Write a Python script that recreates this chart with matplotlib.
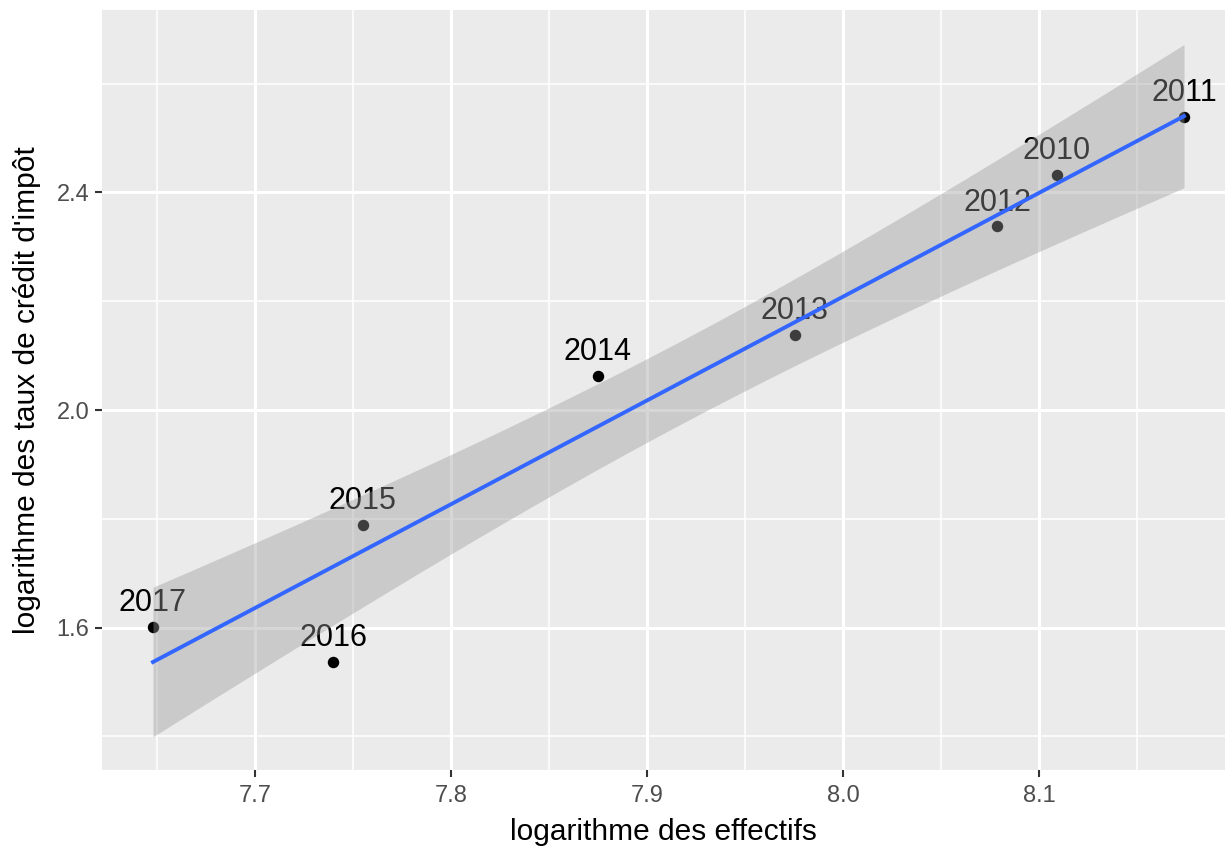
import numpy as np
import matplotlib
matplotlib.use("Agg")
import matplotlib.pyplot as plt
from matplotlib.ticker import MultipleLocator

years = ["2017", "2016", "2015", "2014", "2013", "2012", "2010", "2011"]
log_effectifs = [7.648, 7.740, 7.755, 7.875, 7.9755, 8.0786, 8.109, 8.174]
log_taux = [1.601, 1.537, 1.7885, 2.0625, 2.138, 2.338, 2.432, 2.539]
x_ticks = [7.7, 7.8, 7.9, 8.0, 8.1]
y_ticks = [1.6, 2.0, 2.4]

plt.rcParams['font.family'] = ['Liberation Sans', 'DejaVu Sans']

fig = plt.figure(figsize=(12.25, 8.47), dpi=100)
ax = fig.add_axes([102/1225, 1-770/847, (1225-102)/1225, (770-10)/847])
ax.set_facecolor('#EBEBEB')
for s in ax.spines.values():
    s.set_visible(False)

ax.set_xlim(7.622, 8.1949)
ax.set_ylim(1.338, 2.7356)
ax.set_xticks(x_ticks)
ax.set_yticks(y_ticks)
ax.xaxis.set_minor_locator(MultipleLocator(0.05))
ax.yaxis.set_minor_locator(MultipleLocator(0.2))
ax.set_xticklabels([f"{v:.1f}" for v in x_ticks])
ax.set_yticklabels([f"{v:.1f}" for v in y_ticks])
ax.grid(which='major', color='white', linewidth=2.2)
ax.grid(which='minor', color='white', linewidth=1.1)
ax.set_axisbelow(True)
ax.tick_params(which='major', length=5, width=1.5, color='#333333',
               labelcolor='#4D4D4D', labelsize=17, pad=4)
ax.tick_params(axis='x', which='major', pad=6)
ax.tick_params(which='minor', length=0)

x = np.array(log_effectifs)
y = np.array(log_taux)

ax.scatter(x, y, s=68, color='black', zorder=3, linewidths=0)
for xi, yi, lab in zip(x, y, years):
    ax.annotate(lab, (xi, yi), xytext=(0, 17), textcoords='offset points',
                ha='center', va='center', fontsize=22, color='black', zorder=4)

# linear fit with 95% confidence band (like geom_smooth(method='lm'))
n = len(x)
b, a = np.polyfit(x, y, 1)
xs = np.linspace(x.min(), x.max(), 80)
ys = a + b * xs
resid = y - (a + b * x)
s_err = np.sqrt(np.sum(resid**2) / (n - 2))
sxx = np.sum((x - x.mean())**2)
se = s_err * np.sqrt(1/n + (xs - x.mean())**2 / sxx)
t = 2.446912
ax.fill_between(xs, ys - t*se, ys + t*se, color='#999999', alpha=0.4,
                linewidth=0, zorder=5)
ax.plot(xs, ys, color='#3366FF', linewidth=2.8, zorder=6)

ax.set_xlabel("logarithme des effectifs", fontsize=21.5, color='black', labelpad=8)
ax.set_ylabel("logarithme des taux de crédit d'impôt", fontsize=21.5, color='black', labelpad=11)

fig.savefig("out.png", dpi=100)
